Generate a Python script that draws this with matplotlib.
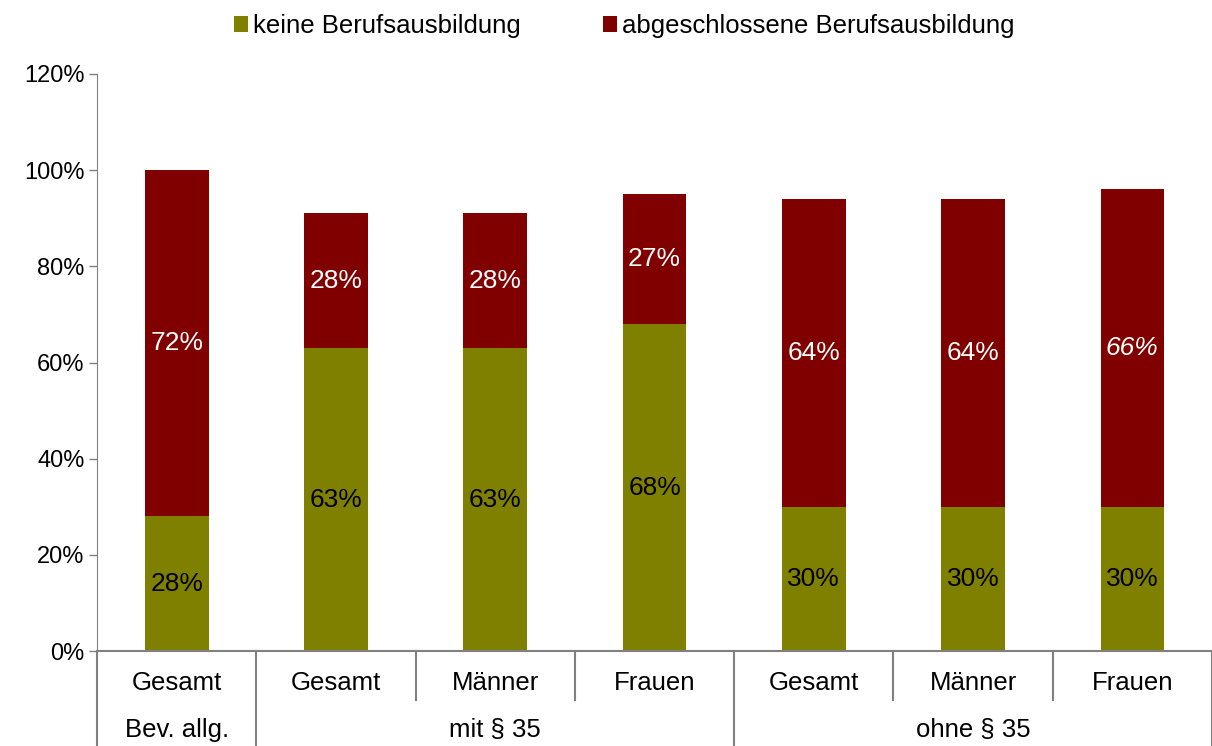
import matplotlib.pyplot as plt
import numpy as np

plt.rcParams["font.family"] = ["Liberation Sans", "DejaVu Sans"]

# Data
categories = ["Gesamt", "Gesamt", "Männer", "Frauen", "Gesamt", "Männer", "Frauen"]
groups = ["Bev. allg.", "mit § 35", "ohne § 35"]
group_sizes = [1, 3, 3]
keine = [28, 63, 63, 68, 30, 30, 30]
abgeschlossen = [72, 28, 28, 27, 64, 64, 66]
italic_top = [False, False, False, False, False, False, True]

olive = "#808000"
darkred = "#800000"

fig = plt.figure(figsize=(12.12, 7.46), dpi=100)
ax = fig.add_axes([97 / 1212, 1 - 651 / 746, 1 - 97 / 1212, (651 - 74) / 746])

x = np.arange(len(categories))
w = 0.4
ax.bar(x, keine, w, color=olive, label="keine Berufsausbildung")
ax.bar(x, abgeschlossen, w, bottom=keine, color=darkred,
       label="abgeschlossene Berufsausbildung")

for i in range(len(x)):
    ax.text(x[i], keine[i] / 2, f"{keine[i]}%", ha="center", va="center",
            fontsize=19, color="black")
    ax.text(x[i], keine[i] + abgeschlossen[i] / 2, f"{abgeschlossen[i]}%",
            ha="center", va="center", fontsize=19, color="white",
            style="italic" if italic_top[i] else "normal")

ax.set_xlim(-0.5, len(x) - 0.5)
ax.set_ylim(0, 120)
ax.set_yticks(np.arange(0, 121, 20))
ax.set_yticklabels([f"{v}%" for v in range(0, 121, 20)], fontsize=17)
ax.tick_params(axis="y", color="#808080", length=6, width=1, pad=3)
ax.set_xticks([])
for s in ["top", "right"]:
    ax.spines[s].set_visible(False)
ax.spines["left"].set_color("#808080")
ax.spines["bottom"].set_color("#808080")
ax.spines["bottom"].set_linewidth(1.5)

# multi-level x axis
trans = ax.get_xaxis_transform()
for i, c in enumerate(categories):
    ax.text(x[i], -0.056, c, transform=trans, ha="center", va="center",
            fontsize=18.5, clip_on=False)
bounds = np.cumsum([0] + group_sizes) - 0.5
for b in np.arange(-0.5, len(x), 1.0):
    if b in bounds:
        y0 = -0.17
    else:
        y0 = -0.085
    ax.plot([b, b], [0, y0], transform=trans, color="#808080", lw=1.5,
            clip_on=False)
for g, lo, hi in zip(groups, bounds[:-1], bounds[1:]):
    ax.text((lo + hi) / 2, -0.137, g, transform=trans, ha="center", va="center",
            fontsize=18.5, clip_on=False)

fig.legend(loc="upper center", bbox_to_anchor=(0.515, 1.012), ncol=2,
           frameon=False, fontsize=18.5, handlelength=0.55, handleheight=0.55,
           handletextpad=0.2, columnspacing=3.2)

fig.savefig("out.png", dpi=100)
